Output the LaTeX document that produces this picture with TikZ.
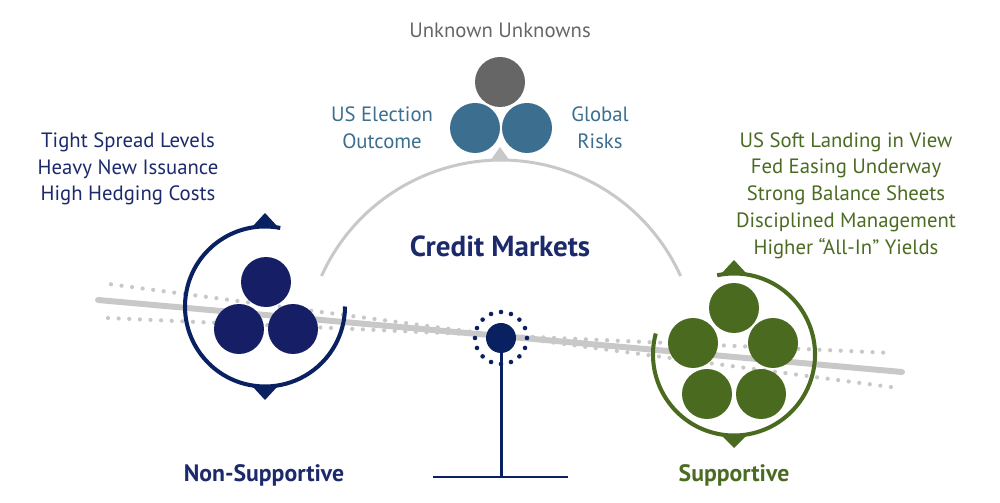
\documentclass[tikz,border=0pt]{standalone}
\usepackage{fontspec}
\setmainfont{PT Sans}
\definecolor{navytxt}{HTML}{1C2A6C}
\definecolor{navyball}{HTML}{161F65}
\definecolor{navyring}{HTML}{0A2161}
\definecolor{greentxt}{HTML}{4C6B22}
\definecolor{greenball}{HTML}{4A6A1F}
\definecolor{steel}{HTML}{3B6E8F}
\definecolor{darkgray}{HTML}{666666}
\definecolor{lightgray}{HTML}{C8C8C8}
\definecolor{dotgray}{HTML}{C8C8C8}
\newcommand{\lblfont}{\fontsize{11.8}{15.2}\selectfont}
\newcommand{\ttlfont}{\fontsize{13.5}{16}\selectfont\bfseries}

\begin{document}
\begin{tikzpicture}[x=0.02cm, y=0.02cm,
    ball/.style={circle, fill=#1, minimum size=1cm, inner sep=0pt},
    ring/.style={draw=#1, line width=2.3pt},
    dotline/.style={draw=dotgray, line width=2.4pt, line cap=round,
      dash pattern=on 0pt off 6.05pt},
    beam/.style={draw=lightgray, line width=3.4pt, line cap=round},
    arcline/.style={draw=lightgray, line width=1.7pt},
    stand/.style={draw=navyring, line width=1.7pt},
    lbl/.style={font=\lblfont, align=center, text=#1},
    ttl/.style={font=\ttlfont, text=#1}]
  \useasboundingbox (0,0) rectangle (1000,503);

  \coordinate (da1) at (111,218.7);
  \coordinate (da2) at (893,115.7);
  \coordinate (db1) at (108,185);
  \coordinate (db2) at (892,150);
  \coordinate (bm1) at (98,203);
  \coordinate (bm2) at (902,131);
  \draw [dotline] (da1) -- (da2);
  \draw [dotline] (db1) -- (db2);
  \draw [beam] (bm1) -- (bm2);

  \coordinate (arcL) at (321.5,227);
  \draw [arcline] (arcL) arc[start angle=155.7, end angle=24.3, radius=197];
  \fill [lightgray] (490,342) -- (500,356) -- (510,342) -- cycle;

  \coordinate (lring) at (265,196.5);
  \draw [ring=navyring] (lring) ++(79:80) arc[start angle=79, end angle=360, radius=80];
  \fill [navyring] (252.5,276.5) -- (265,290) -- (277.5,276.5) -- cycle;
  \fill [navyring] (252.5,116.5) -- (265,103) -- (277.5,116.5) -- cycle;
  \node [ball=navyball] (n1) at (266,221) {};
  \node [ball=navyball] (n2) at (239,174) {};
  \node [ball=navyball] (n3) at (293,174) {};

  \coordinate (rring) at (734,148.5);
  \draw [ring=greenball] (rring) ++(165:81) arc[start angle=165, end angle=462, radius=81];
  \fill [greenball] (721.5,229.5) -- (734,243) -- (746.5,229.5) -- cycle;
  \fill [greenball] (721.5,67.5) -- (734,55) -- (746.5,67.5) -- cycle;
  \node [ball=greenball] (s1) at (734,195) {};
  \node [ball=greenball] (s2) at (693,160) {};
  \node [ball=greenball] (s3) at (773,160) {};
  \node [ball=greenball] (s4) at (707,109) {};
  \node [ball=greenball] (s5) at (761,109) {};

  \node [ball=darkgray] (u1) at (500,421) {};
  \node [ball=steel] (u2) at (475,375) {};
  \node [ball=steel] (u3) at (527,375) {};

  \node [circle, fill=navyring, minimum size=0.6cm, inner sep=0pt] (ful) at (501,165) {};
  \foreach \a in {0,22.5,...,337.5}
    \fill [navyring] (ful) ++(\a:26) circle[radius=2.3];
  \coordinate (baseL) at (433,26);
  \coordinate (baseR) at (568,26);
  \coordinate (baseM) at (501,26);
  \draw [stand] (baseL) -- (baseR);
  \draw [stand] (ful) -- (baseM);

  \node [lbl=darkgray] (unk) at (500,473) {Unknown Unknowns};
  \node [lbl=steel] (elec) at (382,375.5) {US Election\\Outcome};
  \node [lbl=steel] (glob) at (600,375.5) {Global\\Risks};
  \node [lbl=navytxt] (neg) at (128,334) {Tight Spread Levels\\Heavy New Issuance\\High Hedging Costs};
  \node [lbl=greentxt] (pos) at (846,307.5) {US Soft Landing in View\\Fed Easing Underway\\Strong Balance Sheets\\Disciplined Management\\Higher “All-In” Yields};
  \node [ttl=navytxt, font=\fontsize{16.5}{19}\selectfont\bfseries] (cm) at (500,257) {Credit Markets};
  \node [ttl=navytxt] (nons) at (264,28) {Non-Supportive};
  \node [ttl=greentxt] (sup) at (734,28) {Supportive};
\end{tikzpicture}
\end{document}
